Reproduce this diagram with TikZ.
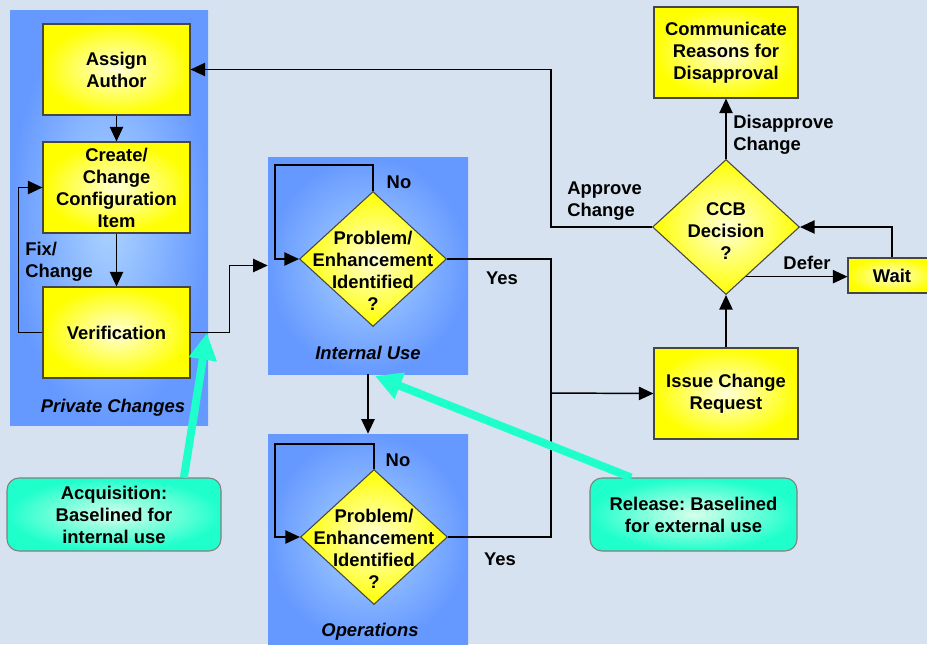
\documentclass[tikz,border=0pt]{standalone}
\usepackage{fontspec}
\setmainfont{Liberation Sans}
\usetikzlibrary{arrows.meta,shapes.geometric,calc}

\newlength{\unitpx}
\setlength{\unitpx}{0.75pt}

\definecolor{bgblue}{RGB}{214,226,240}
\definecolor{panelblue}{RGB}{102,153,255}
\definecolor{panellight}{RGB}{172,212,255}
\definecolor{boxyellow}{RGB}{255,255,0}
\definecolor{boxlight}{RGB}{255,255,215}
\definecolor{calloutgreen}{RGB}{30,255,204}
\definecolor{calloutlight}{RGB}{215,255,235}
\definecolor{edgegray}{RGB}{70,70,70}

\begin{document}
\frenchspacing
\begin{tikzpicture}[x=0.75pt, y=-0.75pt,
    font=\fontsize{13.8}{16.5}\selectfont\bfseries,
    panel/.style={rectangle, inner sep=0pt, inner color=panellight, outer color=panelblue},
    paneltitle/.style={font=\fontsize{13.8}{16.5}\selectfont\bfseries\itshape},
    procbox/.style={rectangle, draw=edgegray, line width=0.8pt, inner sep=0pt, align=center,
        inner color=boxlight, outer color=boxyellow, minimum height=91\unitpx},
    decision/.style={diamond, draw=edgegray, line width=0.8pt, inner sep=0pt,
        inner color=boxlight, outer color=boxyellow, minimum width=147\unitpx, minimum height=135\unitpx},
    dectext/.style={align=center, inner sep=0pt},
    callout/.style={rectangle, rounded corners=12\unitpx, draw=gray, line width=0.8pt, align=center,
        inner color=calloutlight, outer color=calloutgreen, minimum height=73\unitpx},
    lbl/.style={align=left, inner sep=0pt},
    arr/.style={line width=1.1pt, -{Triangle[length=11pt,width=10pt]}},
    flow/.style={line width=1.1pt},
    pointer/.style={draw=calloutgreen, line width=6pt, -{Triangle[length=20pt,width=20pt]}}]

    % Background
    \fill[bgblue] (0,0) rectangle (927,644);
    \useasboundingbox (0,0) rectangle (927,644);

    % Panels
    \node[panel, minimum width=198\unitpx, minimum height=415\unitpx] (privpanel) at (109,217.5) {};
    \node[panel, minimum width=200\unitpx, minimum height=217\unitpx] (iupanel) at (368,265.5) {};
    \node[panel, minimum width=200\unitpx, minimum height=210\unitpx] (opspanel) at (368,539) {};
    \node[paneltitle] (privtitle) at (113,408) {Private Changes};
    \node[paneltitle] (iutitle) at (368,353) {Internal Use};
    \node[paneltitle] (opstitle) at (370,632) {Operations};

    % Boxes
    \node[procbox, minimum width=147\unitpx] (assign) at (116.5,69.5) {Assign\\Author};
    \node[procbox, minimum width=147\unitpx] (create) at (116.5,187.5) {Create/\\Change\\Configuration\\Item};
    \node[procbox, minimum width=147\unitpx] (verif) at (116.5,332.5) {Verification};
    \node[procbox, minimum width=144\unitpx] (comm) at (726,52.5) {Communicate\\Reasons for\\Disapproval};
    \node[procbox, minimum width=144\unitpx] (issue) at (726,393.5) {Issue Change\\Request};
    \node[procbox, minimum width=88\unitpx, minimum height=35\unitpx] (wait) at (892,275.5) {Wait};

    % Decisions
    \node[decision, label={[dectext, yshift=-9pt]center:{Problem/\\Enhancement\\Identified\\?}}] (iudec) at (373,259) {};
    \node[decision, label={[dectext, yshift=-9pt]center:{Problem/\\Enhancement\\Identified\\?}}] (opsdec) at (374,537) {};
    \node[decision, label={[dectext, yshift=-3pt]center:{CCB\\Decision\\?}}] (ccb) at (726,227) {};

    % Private changes
    \draw[arr] (assign) -- (create);
    \draw[arr] (create) -- (verif);
    \draw[arr] (verif.west) -- ++(-24,0) |- (create.west);
    \draw[arr] (verif.east) -- ++(39,0) |- (iupanel.west);

    % Use loops
    \draw[arr] (iudec.north) -- ++(0,-26) -| ($(iudec.west)+(-24,0)$) -- (iudec.west);
    \draw[arr] (opsdec.north) -- ++(0,-25) -| ($(opsdec.west)+(-25,0)$) -- (opsdec.west);
    \draw[arr] (iupanel.south) -- (opspanel.north);
    \coordinate (yesbus) at (551,393);
    \draw[flow] (iudec.east) -| (yesbus) |- (opsdec.east);
    \draw[arr] (yesbus) -- (issue.west);

    % Change board
    \draw[arr] (issue.north) -- (ccb.south);
    \draw[arr] (ccb.north) -- (comm.south);
    \draw[arr] (ccb.west) -- ++(-101,0) |- (assign.east);
    \coordinate (deferpt) at ($(ccb.south)!0.27!(ccb.east)$);
    \draw[arr] (deferpt) -- (deferpt -| wait.west);
    \draw[arr] (wait.north) |- (ccb.east);

    % Labels
    \node[lbl, anchor=west] (fixlbl) at (25,261.5) {Fix/\\Change};
    \node[lbl] (iuno) at (399,182) {No};
    \node[lbl] (iuyes) at (502,278) {Yes};
    \node[lbl] (opsno) at (398,460) {No};
    \node[lbl] (opsyes) at (500,559) {Yes};
    \node[lbl, anchor=west] (approvelbl) at (567,201) {Approve\\Change};
    \node[lbl, anchor=west] (disapprovelbl) at (733,134.5) {Disapprove\\Change};
    \node[lbl] (deferlbl) at (807,263) {Defer};

    % Baselines
    \node[callout, minimum width=214\unitpx] (acq) at (114,514.5) {Acquisition:\\Baselined for\\internal use};
    \node[callout, minimum width=207\unitpx] (rel) at (693.5,514.5) {Release: Baselined\\for external use};
    \coordinate (acqtip) at (207,333);
    \coordinate (reltip) at (375,376);
    \draw[pointer] ($(acq.north)!0.65!(acq.north east)$) -- (acqtip);
    \draw[pointer] ($(rel.north west)!0.4!(rel.north)$) -- (reltip);
\end{tikzpicture}
\end{document}
